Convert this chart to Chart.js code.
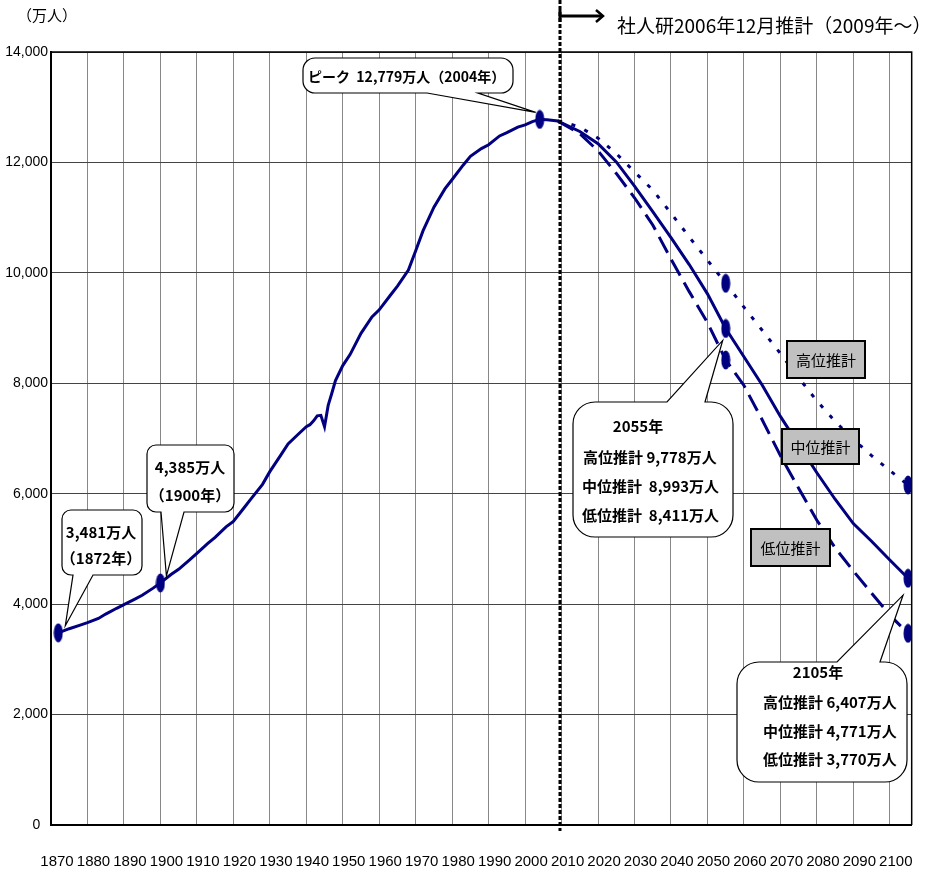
<!DOCTYPE html>
<html lang="ja">
<head>
<meta charset="utf-8">
<title>日本の人口の推移</title>
<script src="https://cdn.jsdelivr.net/npm/chart.js@4.4.1/dist/chart.umd.min.js"></script>
<style>
  html, body { margin: 0; padding: 0; background: #fff; }
  #wrap { width: 935px; height: 872px; }
</style>
</head>
<body>
<div id="wrap"><canvas id="popChart"></canvas></div>
<script>
// 実績（万人）
const histYears = [1872, 1875, 1878, 1880, 1883, 1885, 1888, 1890, 1893, 1895, 1898, 1900,
  1903, 1905, 1908, 1910, 1913, 1915, 1918, 1920, 1923, 1925, 1928, 1930, 1933, 1935, 1938,
  1940, 1941, 1942, 1943, 1944, 1945, 1946, 1947, 1948, 1950, 1952, 1955, 1958, 1960, 1963,
  1965, 1968, 1970, 1972, 1975, 1978, 1980, 1983, 1985, 1988, 1990, 1993, 1995, 1998, 2000,
  2002, 2004, 2006, 2009];
const histValues = [3481, 3555, 3620, 3665, 3740, 3820, 3925, 3990, 4090, 4160, 4290, 4385,
  4540, 4630, 4800, 4920, 5100, 5210, 5400, 5500, 5750, 5920, 6170, 6400, 6700, 6900, 7090,
  7215, 7250, 7320, 7410, 7420, 7215, 7600, 7820, 8050, 8320, 8520, 8905, 9200, 9330, 9590,
  9760, 10050, 10400, 10760, 11190, 11520, 11690, 11950, 12110, 12250, 12320, 12480, 12540,
  12640, 12680, 12740, 12779, 12775, 12751];

// 社人研2006年12月推計
const projYears = [2009, 2010, 2015, 2020, 2025, 2030, 2035, 2040, 2045, 2050, 2055,
  2060, 2065, 2070, 2075, 2080, 2085, 2090, 2095, 2100, 2105];
const highValues = [12751, 12740, 12640, 12440, 12160, 11830, 11500, 11080, 10650, 10230, 9811,
  9380, 8960, 8540, 8100, 7680, 7310, 6985, 6690, 6420, 6158];
const midValues = [12751, 12718, 12560, 12340, 12010, 11570, 11110, 10640, 10150, 9620, 8993,
  8480, 7970, 7400, 6890, 6380, 5900, 5460, 5140, 4800, 4470];
const lowValues = [12751, 12710, 12520, 12210, 11800, 11360, 10868, 10250, 9660, 9100, 8422,
  7960, 7340, 6690, 6100, 5520, 5020, 4600, 4200, 3800, 3472];

const xTickYears = [1870, 1880, 1890, 1900, 1910, 1920, 1930, 1940, 1950, 1960, 1970, 1980,
  1990, 2000, 2010, 2020, 2030, 2040, 2050, 2060, 2070, 2080, 2090, 2100];
const yTickValues = [0, 2000, 4000, 6000, 8000, 10000, 12000, 14000];

const histMarkerYears = [1872, 1900, 2004];
const projMarkerYears = [2055, 2105];
const projectionStart = 2009.5;

const NAVY = '#000080';
const JP = '"Noto Sans CJK JP", sans-serif';

function valueAt(years, values, yr) {
  return values[years.indexOf(yr)];
}

function toPoints(years, values) {
  return years.map((yr, i) => ({ x: yr, y: values[i] }));
}

function ellipseMarker(w, h, color) {
  const c = document.createElement('canvas');
  c.width = w;
  c.height = h;
  const g = c.getContext('2d');
  g.fillStyle = color;
  g.beginPath();
  g.ellipse(w / 2, h / 2, w / 2 - 0.5, h / 2 - 0.5, 0, 0, Math.PI * 2);
  g.fill();
  return c;
}

const markerPoints = [
  ...histMarkerYears.map(yr => ({ x: yr, y: valueAt(histYears, histValues, yr) })),
  ...projMarkerYears.flatMap(yr =>
    [highValues, midValues, lowValues].map(v => ({ x: yr, y: valueAt(projYears, v, yr) })))
];

// solid line: actual + middle projection
const solidPoints = toPoints(histYears, histValues).concat(toPoints(projYears.slice(1), midValues.slice(1)));

function bubble(ctx, b, side, t1, t2, tip) {
  const { x, y, w, h, r } = b;
  ctx.beginPath();
  ctx.moveTo(x + r, y);
  if (side === 'top') {
    ctx.lineTo(t1, y);
    ctx.lineTo(tip.x, tip.y);
    ctx.lineTo(t2, y);
  }
  ctx.arcTo(x + w, y, x + w, y + h, r);
  ctx.arcTo(x + w, y + h, x, y + h, r);
  if (side === 'bottom') {
    ctx.lineTo(t2, y + h);
    ctx.lineTo(tip.x, tip.y);
    ctx.lineTo(t1, y + h);
  }
  ctx.arcTo(x, y + h, x, y, r);
  ctx.arcTo(x, y, x + w, y, r);
  ctx.closePath();
  ctx.fillStyle = '#fff';
  ctx.fill();
  ctx.strokeStyle = '#000';
  ctx.lineWidth = 1.2;
  ctx.stroke();
}

function greyLabel(ctx, x, y, w, h, text) {
  ctx.fillStyle = '#c0c0c0';
  ctx.fillRect(x, y, w, h);
  ctx.strokeStyle = '#000';
  ctx.lineWidth = 2;
  ctx.strokeRect(x, y, w, h);
  ctx.fillStyle = '#000';
  ctx.font = '15px ' + JP;
  ctx.textAlign = 'center';
  ctx.textBaseline = 'middle';
  ctx.fillText(text, x + w / 2, y + h / 2 + 1);
}

const overlay = {
  id: 'overlay',
  afterDatasetsDraw(chart) {
    const { ctx, chartArea: a, scales } = chart;
    const pt = (yr, v, dx, dy) => ({
      x: scales.x.getPixelForValue(yr) + dx,
      y: scales.y.getPixelForValue(v) + dy
    });
    ctx.save();

    // frame top / right
    ctx.strokeStyle = '#000';
    ctx.lineWidth = 1.5;
    ctx.beginPath();
    ctx.moveTo(a.left, a.top);
    ctx.lineTo(a.right, a.top);
    ctx.lineTo(a.right, a.bottom);
    ctx.stroke();

    // start of projection
    const bx = Math.round(scales.x.getPixelForValue(projectionStart));
    ctx.lineWidth = 3;
    ctx.setLineDash([4, 2]);
    ctx.beginPath();
    ctx.moveTo(bx, 0);
    ctx.lineTo(bx, a.bottom + 6);
    ctx.stroke();
    ctx.setLineDash([]);

    // arrow + title
    ctx.beginPath();
    ctx.moveTo(bx, 10);
    ctx.lineTo(bx, 22);
    ctx.moveTo(bx, 16);
    ctx.lineTo(bx + 42, 16);
    ctx.stroke();
    ctx.lineWidth = 2.5;
    ctx.beginPath();
    ctx.moveTo(bx + 36, 10);
    ctx.lineTo(bx + 43, 16);
    ctx.lineTo(bx + 36, 22);
    ctx.stroke();
    ctx.fillStyle = '#000';
    ctx.font = '19px ' + JP;
    ctx.textAlign = 'left';
    ctx.textBaseline = 'middle';
    ctx.fillText('社人研2006年12月推計（2009年～）', 617, 26);

    // unit
    ctx.font = '15px ' + JP;
    ctx.fillText('（万人）', 17, 15);

    // callouts
    const m1872 = pt(1872, valueAt(histYears, histValues, 1872), 7, -7);
    bubble(ctx, { x: 62, y: 510, w: 80, h: 65, r: 9 }, 'bottom', 73, 93, m1872);
    const m1900 = pt(1900, valueAt(histYears, histValues, 1900), 6, -7);
    bubble(ctx, { x: 147, y: 445, w: 87, h: 67, r: 9 }, 'bottom', 161, 184, m1900);
    const mPeak = pt(2004, valueAt(histYears, histValues, 2004), -4, -7);
    bubble(ctx, { x: 303, y: 58, w: 210, h: 35, r: 12 }, 'bottom', 427, 478, mPeak);
    const m2055 = pt(2055, valueAt(projYears, midValues, 2055), -3, 12);
    bubble(ctx, { x: 573, y: 402, w: 160, h: 135, r: 22 }, 'top', 667, 705, m2055);
    const m2105 = pt(2105, valueAt(projYears, midValues, 2105), -5, 17);
    bubble(ctx, { x: 737, y: 662, w: 170, h: 120, r: 22 }, 'top', 837, 880, m2105);

    ctx.fillStyle = '#000';
    ctx.font = 'bold 15px ' + JP;
    ctx.textBaseline = 'middle';
    ctx.textAlign = 'center';
    ctx.fillText('3,481万人', 101, 532);
    ctx.fillText('（1872年）', 101, 558);
    ctx.fillText('4,385万人', 190, 467);
    ctx.fillText('（1900年）', 190, 495);
    ctx.fillText('2055年', 638, 426);
    ctx.fillText('2105年', 818, 672);

    ctx.textAlign = 'left';
    ctx.fillText('高位推計 9,778万人', 583, 457);
    ctx.fillText('中位推計  8,993万人', 582, 486);
    ctx.fillText('低位推計  8,411万人', 582, 515);
    ctx.fillText('高位推計 6,407万人', 763, 702);
    ctx.fillText('中位推計 4,771万人', 763, 731);
    ctx.fillText('低位推計 3,770万人', 763, 759);
    ctx.font = 'bold 14px ' + JP;
    ctx.fillText('ピーク  12,779万人（2004年）', 308, 77);

    greyLabel(ctx, 787, 341, 78, 37, '高位推計');
    greyLabel(ctx, 782, 429, 77, 35, '中位推計');
    greyLabel(ctx, 751, 529, 79, 37, '低位推計');

    ctx.restore();
  }
};

new Chart(document.getElementById('popChart'), {
  type: 'line',
  data: {
    datasets: [
      {
        label: 'marker',
        data: markerPoints,
        showLine: false,
        pointStyle: ellipseMarker(10, 20, NAVY),
        pointRadius: 5,
        borderColor: NAVY,
        backgroundColor: NAVY
      },
      {
        label: '実績・中位推計',
        data: solidPoints,
        borderColor: NAVY,
        borderWidth: 3,
        pointRadius: 0,
        tension: 0
      },
      {
        label: '高位推計',
        data: toPoints(projYears, highValues),
        borderColor: NAVY,
        borderWidth: 3,
        borderDash: [4, 10],
        pointRadius: 0
      },
      {
        label: '低位推計',
        data: toPoints(projYears, lowValues),
        borderColor: NAVY,
        borderWidth: 3,
        borderDash: [18, 8],
        pointRadius: 0
      }
    ]
  },
  options: {
    responsive: true,
    maintainAspectRatio: false,
    animation: false,
    layout: { padding: { top: 52, right: 20, left: 0, bottom: 0 } },
    plugins: {
      legend: { display: false },
      tooltip: { enabled: false }
    },
    scales: {
      x: {
        type: 'linear',
        min: 1870,
        max: 2106,
        afterFit: (s) => { s.height = 47; },
        afterBuildTicks: (s) => { s.ticks = xTickYears.map(v => ({ value: v })); },
        grid: { color: '#888', lineWidth: 1, drawTicks: false },
        border: { color: '#000', width: 2 },
        ticks: {
          autoSkip: false,
          maxRotation: 0,
          minRotation: 0,
          padding: 28,
          labelOffset: 6,
          color: '#000',
          font: { family: '"Liberation Sans", Arial, sans-serif', size: 15 },
          callback: (v) => String(v)
        }
      },
      y: {
        min: 0,
        max: 14000,
        afterFit: (s) => { s.width = 51; },
        afterBuildTicks: (s) => { s.ticks = yTickValues.map(v => ({ value: v })); },
        grid: { color: '#444', lineWidth: 1, drawTicks: false },
        border: { color: '#000', width: 2 },
        ticks: {
          padding: 3,
          color: '#000',
          font: { family: '"Liberation Sans", Arial, sans-serif', size: 14 },
          callback: (v) => v === 0 ? '0  ' : v.toLocaleString('en-US')
        }
      }
    }
  },
  plugins: [overlay]
});
</script>
</body>
</html>
